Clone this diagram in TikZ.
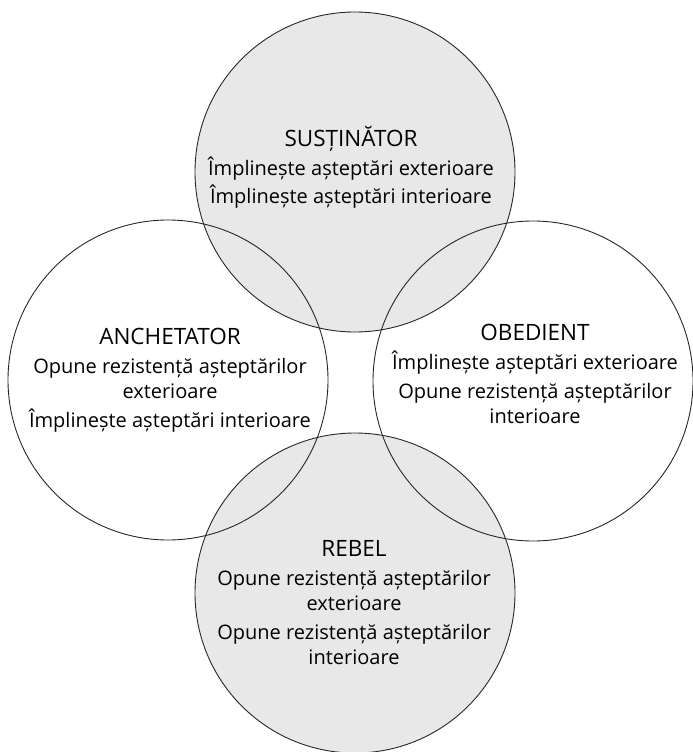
\documentclass[tikz,border=0pt]{standalone}
\usepackage{fontspec}
\setmainfont{Open Sans}
\usepackage{tikz}
\usepackage{xcolor}
\definecolor{cercgri}{HTML}{E8E8E8}
\tikzset{
	profil/.style={align=center,font=\fontsize{20}{25}\selectfont,inner sep=0pt},
	contur/.style={draw=black!85,line width=0.9pt}
}
\newcommand{\titlu}[1]{{\fontsize{22.5}{25}\selectfont #1}}
\begin{document}
\begin{tikzpicture}[x=1pt,y=-1pt]
	\useasboundingbox (0,0) rectangle (693,752);
	\coordinate (sus) at (355,172); 		%top
	\coordinate (anc) at (168,380); 		%left
	\coordinate (obe) at (533,381); 		%right
	\coordinate (reb) at (355,593); 		%bottom
	\fill[cercgri] (sus) circle (160); 	% grey ones first
	\fill[cercgri] (reb) circle (160);
	\foreach \c in {sus,anc,obe,reb}
		\draw[contur] (\c) circle (160); 	% outlines on top
	\node[profil] (sustinator) at (351,167) {\titlu{SUSȚINĂTOR}\\[4pt]
		Împlinește așteptări exterioare\\[3pt]
		Împlinește așteptări interioare};
	\node[profil] (anchetator) at (170,380) {\titlu{ANCHETATOR}\\[4pt]
		Opune rezistență așteptărilor\\
		exterioare\\[4pt]
		Împlinește așteptări interioare};
	\node[profil] (obedient) at (535,374) {\titlu{OBEDIENT}\\[4pt]
		Împlinește așteptări exterioare\\[4pt]
		Opune rezistență așteptărilor\\
		interioare};
	\node[profil] (rebel) at (354,603) {\titlu{REBEL}\\[4pt]
		Opune rezistență așteptărilor\\
		exterioare\\[4pt]
		Opune rezistență așteptărilor\\
		interioare};
\end{tikzpicture}
\end{document}
